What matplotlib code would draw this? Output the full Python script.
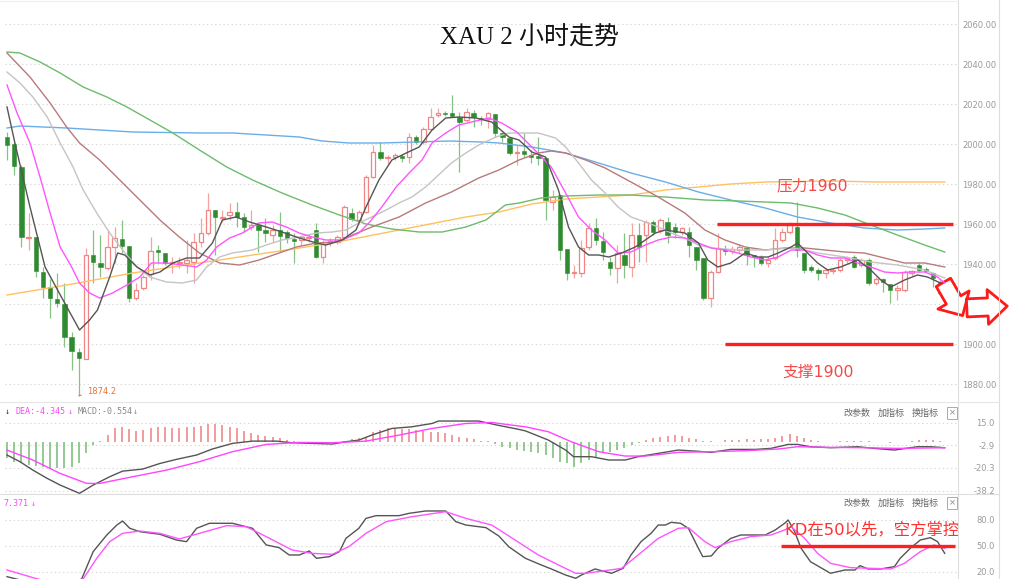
import numpy as np
import matplotlib
matplotlib.use("Agg")
from matplotlib import pyplot as plt
from matplotlib.lines import Line2D

plt.rcParams['font.family'] = ['DejaVu Sans', 'Noto Sans CJK SC']

# ---- K line data (2 hour candles) ----
opens = [2003.5, 2000, 1988.5, 1953, 1953.5, 1936, 1928.5, 1922.5, 1920, 1903.5,
         1896, 1892.5, 1944.5, 1940.5, 1938, 1948.5, 1952.5, 1949, 1923, 1928,
         1935, 1947, 1945.5, 1940.5, 1940.5, 1940.5, 1941, 1951, 1955.5, 1967,
         1963, 1964.5, 1966, 1963.5, 1958.5, 1959.5, 1957, 1954.5, 1957, 1956,
         1952.5, 1952, 1953, 1957, 1943.5, 1950.5, 1951, 1953.5, 1965.5, 1962,
         1966, 1983.5, 1996, 1993, 1993.5, 1994, 1993.5, 2003.5, 2001, 2007.5,
         2014.5, 2015.5, 2015.5, 2013.5, 2012, 2015.5, 2013, 2012.5, 2015, 2005.5,
         2003, 1995.5, 1996.5, 1994.5, 1994, 1993, 1971, 1974.5, 1947.5, 1935.5,
         1935.5, 1948.5, 1958, 1951.5, 1941, 1938, 1944.5, 1938.5, 1954.5, 1954.5,
         1961, 1957, 1961, 1958.5, 1956, 1956, 1948.5, 1943, 1923, 1936,
         1947.5, 1946.5, 1947, 1948, 1944.5, 1943.5, 1940.5, 1943, 1952, 1956,
         1958.5, 1945.5, 1938.5, 1937, 1935.5, 1936.5, 1937, 1942, 1943.5, 1939.5,
         1942, 1930.5, 1932.5, 1930, 1927, 1927, 1935.5, 1939.5, 1937.5, 1935.5,
         1931, 1926]
closes = [1999.5, 1989, 1953.5, 1953.5, 1936.5, 1928.5, 1923, 1920.5, 1903.5, 1896.5,
          1893, 1944.5, 1941, 1938.5, 1948.5, 1953, 1949, 1923, 1927, 1933.5,
          1946.5, 1946, 1940.5, 1941, 1941, 1942, 1951, 1955.5, 1967, 1963.5,
          1963.5, 1966, 1963.5, 1958.5, 1959.5, 1957, 1955.5, 1957, 1954, 1953,
          1951.5, 1953.5, 1953.5, 1943.5, 1950, 1951.5, 1953.5, 1968.5, 1962.5, 1966,
          1983.5, 1996, 1993, 1993.5, 1994.5, 1993, 2003.5, 2001, 2007.5, 2013.5,
          2015.5, 2015, 2014, 2011, 2016, 2013.5, 2012.5, 2015.5, 2005.5, 2003.5,
          1995.5, 1996, 1995, 1993.5, 1993, 1972, 1973.5, 1947, 1935.5, 1936,
          1948, 1958, 1952, 1946, 1938, 1945.5, 1939.5, 1954.5, 1948.5, 1961,
          1956, 1962, 1954.5, 1956, 1958, 1949.5, 1942, 1923, 1936, 1948,
          1946.5, 1947.5, 1948.5, 1944.5, 1943.5, 1940.5, 1942, 1952, 1956, 1959.5,
          1947, 1937, 1937, 1935.5, 1937, 1937, 1942, 1943, 1938.5, 1942,
          1930.5, 1932.5, 1931, 1927, 1928, 1936, 1936.5, 1937, 1936.5, 1933,
          1925.5, 1925]
highs = [2006, 2001, 1989.5, 1965.5, 1953.5, 1938.5, 1932.5, 1935.5, 1930.5, 1906,
         1898, 1948, 1957, 1954.5, 1957, 1958.5, 1962, 1949, 1930.5, 1934.5,
         1953.5, 1949.5, 1945.5, 1943.5, 1943.5, 1952, 1955.5, 1963, 1975.5, 1967,
         1967, 1970.5, 1971, 1965.5, 1967, 1961, 1963, 1959.5, 1966, 1957,
         1955.5, 1954.5, 1954.5, 1960.5, 1952, 1953, 1954.5, 1969.5, 1968, 1967,
         1984.5, 1999.5, 2001, 1994.5, 1995.5, 1995, 2005.5, 2004.5, 2008.5, 2018,
         2018, 2016.5, 2024.5, 2016, 2018, 2017, 2014, 2016, 2015, 2006,
         2003.5, 1999.5, 2005.5, 1997, 2003.5, 1993.5, 1977, 1974.5, 1947.5, 1939.5,
         1952, 1960.5, 1963, 1956, 1943.5, 1949.5, 1955.5, 1960.5, 1960.5, 1962,
         1962, 1963, 1963.5, 1960.5, 1958.5, 1958.5, 1948.5, 1943, 1937, 1955.5,
         1949.5, 1949, 1950, 1948.5, 1944.5, 1944.5, 1943.5, 1958, 1958, 1961,
         1971, 1945.5, 1939.5, 1938, 1938, 1938, 1943, 1944, 1944.5, 1943,
         1943, 1933.5, 1933, 1930, 1929.5, 1937, 1937, 1940.5, 1938.5, 1936,
         1932, 1927]
lows = [1992, 1984.5, 1948.5, 1947, 1933.5, 1923, 1913, 1918.5, 1898.5, 1887,
        1874.2, 1892.5, 1930.5, 1933.5, 1937, 1940.5, 1945.5, 1921, 1922, 1927,
        1932, 1940.5, 1939.5, 1935.5, 1938, 1935.5, 1930.5, 1948.5, 1954.5, 1944.5,
        1961, 1962, 1958.5, 1956, 1957, 1946, 1951, 1951, 1946, 1950.5,
        1940.5, 1949.5, 1951, 1943, 1940.5, 1949, 1950, 1952, 1961.5, 1961,
        1965.5, 1983, 1992, 1990, 1992, 1991, 1990.5, 2000, 2000, 2007,
        2013.5, 2014, 2013.5, 1986, 2011, 2008.5, 2009.5, 2008, 2003.5, 2001,
        1994.5, 1989.5, 1993.5, 1990.5, 1989.5, 1962, 1967, 1942, 1932, 1933,
        1933.5, 1947, 1949.5, 1942, 1934.5, 1930.5, 1933, 1933.5, 1941, 1941,
        1954.5, 1955.5, 1950.5, 1953, 1954.5, 1943.5, 1937, 1922, 1918.5, 1935.5,
        1944.5, 1945, 1945.5, 1939.5, 1938.5, 1939.5, 1938.5, 1942, 1951, 1955,
        1943.5, 1935.5, 1936, 1932, 1933, 1935, 1936, 1940.5, 1938, 1938.5,
        1929.5, 1929.5, 1926, 1920.5, 1922, 1926, 1934, 1936, 1936, 1928.5,
        1925, 1920.5]

# moving averages: (bar index, price)
ma5 = [(0, 2018.5), (1.1, 2000.5), (3.2, 1968.5), (5.3, 1938.5), (7.8, 1922), (10.1, 1907),
       (11.5, 1912), (12.6, 1917), (14.3, 1933.5), (15.4, 1945.5), (16.4, 1944.5), (18.1, 1938.5),
       (19.9, 1934.5), (21.3, 1936), (23.1, 1940.5), (25.0, 1943), (26.8, 1943), (28.6, 1950.5),
       (30.0, 1962), (31.9, 1963.5), (33.8, 1961), (36.1, 1958.5), (38.3, 1956), (40.7, 1953),
       (43.1, 1950.5), (44.4, 1949.5), (46.7, 1952), (48.6, 1957), (50.0, 1968.5), (51.8, 1982),
       (53.6, 1992), (55.6, 1995.5), (57.4, 1998.5), (59.2, 2007), (61.1, 2013), (62.9, 2013.5),
       (65.3, 2013), (67.5, 2011), (69.9, 2003.5), (71.3, 2002), (73.1, 1996), (75.0, 1993.5),
       (76.8, 1977), (78.2, 1958.5), (79.6, 1948.5), (81.0, 1944.5), (82.4, 1944.5), (83.8, 1943.5),
       (85.6, 1945.5), (87.5, 1948.5), (88.9, 1952), (90.3, 1955.5), (91.7, 1957), (94.4, 1955.5),
       (96.3, 1950.5), (97.6, 1942), (99.0, 1938.5), (100.8, 1940.5), (102.8, 1945.5), (104.6, 1943.5),
       (106.0, 1943.5), (107.4, 1945.5), (109.2, 1948.5), (110.1, 1950.5), (111.5, 1945.5),
       (112.9, 1940.5), (114.3, 1937), (116.1, 1938.5), (118.5, 1942), (120.3, 1937), (121.7, 1932),
       (123.1, 1928.5), (125.0, 1932), (126.8, 1934.5), (128.2, 1933.5), (130.0, 1930.5)]
ma10 = [(0, 2029.5), (1.4, 2015.5), (3.2, 2000.5), (4.6, 1983.5), (6.0, 1965.5), (7.4, 1948.5),
        (9.0, 1938.5), (10.1, 1930.5), (11.5, 1925.5), (12.9, 1923), (14.7, 1925.5), (16.7, 1929.5),
        (18.5, 1933.5), (20.1, 1940.5), (22.2, 1940.5), (24.4, 1939.5), (26.4, 1938.5), (27.8, 1942),
        (29.2, 1948.5), (31.0, 1953), (32.8, 1955.5), (35.1, 1960.5), (36.9, 1961), (38.9, 1958.5),
        (40.7, 1955.5), (42.5, 1953.5), (44.4, 1952), (46.7, 1952), (49.0, 1955.5), (50.4, 1960.5),
        (52.2, 1968.5), (54.2, 1978.5), (56.0, 1985.5), (57.8, 1992), (59.2, 2000.5), (61.1, 2005.5),
        (62.9, 2009.5), (64.7, 2011), (67.1, 2013), (68.9, 2010.5), (71.0, 2006), (73.1, 1998.5),
        (75.8, 1988.5), (77.8, 1975.5), (79.6, 1963.5), (81.4, 1957), (83.3, 1952), (85.1, 1945.5),
        (86.9, 1946), (88.9, 1949.5), (90.7, 1952), (92.5, 1953.5), (94.4, 1953), (96.3, 1950.5),
        (98.1, 1948), (100.0, 1947), (101.8, 1945.5), (103.6, 1943.5), (105.6, 1942), (107.4, 1943.5),
        (109.2, 1947), (111.1, 1947), (112.9, 1944.5), (114.7, 1943), (116.7, 1943), (118.5, 1940.5),
        (120.3, 1938.5), (122.2, 1936), (124.0, 1935.5), (125.8, 1936), (127.8, 1936), (129.6, 1933.5),
        (130.6, 1930.5)]
ma20 = [(0, 2036), (1.8, 2030.5), (3.6, 2023.5), (5.6, 2013.5), (7.4, 2000.5), (9.2, 1988.5),
        (10.6, 1977), (12.5, 1965.5), (14.3, 1955.5), (16.1, 1947), (18.1, 1938.5), (19.9, 1933.5),
        (22.2, 1931), (24.4, 1930.5), (26.4, 1932), (27.8, 1938.5), (29.6, 1943.5), (31.4, 1945.5),
        (34.2, 1947), (36.1, 1949.5), (38.3, 1952), (40.7, 1953.5), (43.1, 1955.5), (45.3, 1956),
        (47.2, 1957), (49.0, 1960.5), (50.8, 1963.5), (52.8, 1967), (54.6, 1970.5), (56.4, 1973.5),
        (58.3, 1978.5), (60.1, 1984.5), (61.9, 1990.5), (63.9, 1995.5), (65.7, 1999.5), (68.1, 2003.5),
        (69.9, 2005.5), (74.0, 2005.5), (76.4, 2003), (77.8, 1998.5), (79.6, 1990.5), (81.4, 1982),
        (83.3, 1975.5), (85.1, 1968.5), (86.9, 1963.5), (88.9, 1961), (90.7, 1958.5), (92.5, 1955.5),
        (94.4, 1953), (96.3, 1949.5), (98.1, 1948), (101.8, 1947), (105.6, 1947), (109.2, 1948),
        (111.1, 1947), (112.9, 1945.5), (116.7, 1943.5), (120.3, 1941), (124.0, 1939.5),
        (127.8, 1937), (130.6, 1933)]
ma30 = [(0, 2045.5), (3.2, 2033.5), (6.0, 2020.5), (8.3, 2008.5), (10.1, 2000.5), (12.9, 1992),
        (15.7, 1982), (18.5, 1972), (21.3, 1962), (24.0, 1953.5), (26.8, 1945.5), (29.6, 1940.5),
        (32.4, 1939.5), (35.1, 1942), (37.9, 1945.5), (40.3, 1948.5), (43.1, 1950.5), (45.8, 1951),
        (48.1, 1954.5), (50.8, 1958.5), (54.6, 1963.5), (58.3, 1970.5), (61.9, 1976), (65.7, 1983),
        (68.5, 1987), (71.3, 1992), (74.0, 1995.5), (75.8, 1996.5), (77.8, 1995.5), (80.6, 1992),
        (83.3, 1988), (86.9, 1981), (90.7, 1973.5), (94.4, 1965.5), (97.2, 1957), (100.0, 1952),
        (102.8, 1948.5), (105.6, 1947), (108.3, 1948), (111.1, 1948), (113.9, 1947), (116.7, 1946),
        (119.4, 1945.5), (122.2, 1943), (125.0, 1940.5), (127.8, 1940.5), (130.6, 1938.5)]
ma60 = [(0, 2046), (1.8, 2045.5), (4.6, 2041), (7.4, 2035.5), (10.6, 2028.5), (13.9, 2023.5),
        (16.7, 2018.5), (19.9, 2012), (23.1, 2005.5), (26.8, 1997), (30.6, 1988.5), (34.2, 1982),
        (38.3, 1975.5), (42.5, 1969.5), (46.3, 1964.5), (50.0, 1960), (53.6, 1957.5), (57.4, 1956),
        (60.6, 1956), (63.9, 1958.5), (66.7, 1962), (69.4, 1969.5), (71.3, 1970.5), (74.4, 1973),
        (77.8, 1974), (82.4, 1974.5), (86.9, 1974.5), (91.7, 1973.5), (97.2, 1972), (101.8, 1971.5),
        (105.6, 1971), (109.2, 1970.5), (112.9, 1968), (116.7, 1964.5), (120.3, 1959.5),
        (124.0, 1954.5), (127.8, 1949.5), (130.6, 1946)]
ma120 = [(0, 2008), (1.8, 2009), (8.3, 2008), (17.5, 2006), (26.8, 2005.5), (31.4, 2005.5),
         (36.1, 2004.5), (40.7, 2003.5), (43.9, 2001.5), (47.6, 2000.5), (52.2, 2000.5), (61.5, 2001.5),
         (66.1, 2001), (68.5, 2000.5), (73.1, 1998.5), (77.8, 1995.5), (82.4, 1990.5), (86.9, 1985.5),
         (91.7, 1981), (96.3, 1976), (100.8, 1972), (105.6, 1968), (110.1, 1963.5), (114.7, 1960.5),
         (119.4, 1958), (124.0, 1957), (127.8, 1957.5), (130.6, 1958)]
ma250 = [(0, 1924.5), (8.3, 1929.5), (17.5, 1935.5), (26.8, 1940.5), (36.1, 1945.5), (45.3, 1950.5),
         (54.6, 1957), (63.9, 1963.5), (68.5, 1966), (73.1, 1970), (77.8, 1972.5), (82.4, 1973.5),
         (86.9, 1974.5), (91.7, 1977), (96.3, 1978.5), (100.8, 1980), (105.6, 1981), (114.7, 1981.5),
         (121.3, 1981), (130.6, 1981)]

# MACD
macd_hist = [-13.0, -15.6, -17.0, -18.3, -18.8, -19.6, -20.3, -20.9, -20.9, -19.6,
             -17.0, -9.1, -2.6, 0.8, 5.2, 10.4, 11.7, 9.7, 8.3, 9.1,
             11.0, 11.7, 11.2, 11.0, 11.0, 11.2, 11.7, 12.3, 13.6, 13.6,
             13.0, 11.7, 10.4, 8.3, 6.5, 5.2, 4.4, 3.9, 3.1, 1.3,
             0.5, 0.0, -0.3, -0.8, -1.0, -0.8, -0.3, 0.8, 1.8, 2.6,
             3.9, 7.3, 9.4, 10.4, 10.4, 9.9, 9.7, 9.1, 8.6, 7.8,
             7.3, 6.5, 5.2, 3.9, 2.6, 1.8, 0.5, 0.3, -2.1, -3.9,
             -5.2, -6.5, -7.3, -7.8, -9.1, -10.4, -13.0, -15.6, -17.0, -19.6,
             -17.0, -14.3, -11.7, -9.1, -7.8, -6.5, -5.2, -2.6, -1.3, 1.3,
             2.6, 3.9, 4.7, 5.2, 4.7, 3.1, 1.8, 0.8, 0.3, -0.3,
             1.0, 1.6, 1.6, 1.8, 1.6, 1.8, 2.3, 3.1, 4.7, 5.7,
             4.7, 3.1, 1.3, 0.3, -0.5, -0.3, 0.3, 0.8, 0.8, 0.8,
             0.5, -0.3, -0.5, -0.8, -0.3, 0.0, 0.3, 1.3, 1.3, 1.3,
             0.5, -0.3]
dif = [(0, -10.4), (1.8, -15.6), (3.6, -22.2), (5.6, -28.7), (7.4, -33.9), (10.1, -40.4),
       (12.0, -33.9), (14.3, -27.4), (16.1, -23.0), (18.9, -21.4), (21.3, -17.0), (23.6, -13.8),
       (26.4, -10.4), (28.6, -5.7), (31.4, -1.3), (34.2, 0.5), (37.5, 0.5), (39.7, -0.8),
       (42.5, -1.3), (45.3, -1.8), (47.2, 0), (49.0, 1.3), (50.8, 5.2), (53.6, 10.4), (56.4, 11.7),
       (59.2, 14.3), (60.1, 16.2), (65.7, 16.2), (68.3, 13.0), (71.0, 10.0), (72.2, 8.5), (75.4, 1.3),
       (77.8, -6.5), (78.9, -11.7), (81.4, -11.7), (83.8, -14.3), (86.1, -14.3), (87.9, -11.7),
       (90.7, -9.1), (93.5, -6.5), (95.8, -7.3), (98.1, -8.3), (100.8, -6.0), (104.2, -6.0),
       (106.4, -5.2), (108.8, -2.1), (110.1, -2.1), (111.9, -3.9), (114.7, -4.7), (118.5, -3.9),
       (120.8, -5.2), (123.6, -6.5), (126.8, -3.9), (128.6, -3.9), (130.6, -4.7)]
dea = [(0, -6.5), (3.6, -14.3), (7.4, -24.8), (11.1, -32.6), (12.9, -32.6), (17.5, -27.4),
       (22.2, -22.2), (26.8, -15.6), (31.4, -7.8), (36.1, -2.1), (40.7, -0.5), (45.3, -0.8),
       (50.0, 0.5), (54.6, 5.2), (59.2, 10.4), (63.9, 14.3), (67.5, 15.1), (71.0, 12.5), (72.2, 11.7),
       (75.4, 7.8), (78.6, 0), (82.4, -7.8), (86.1, -11.2), (88.9, -11.2), (93.5, -8.3), (98.1, -7.8),
       (102.8, -7.0), (107.4, -5.7), (110.1, -3.9), (114.7, -4.4), (119.4, -4.7), (124.0, -5.2),
       (130.6, -4.7)]

# KD
kd_k = [(0, 14.6), (3.6, 7), (7.4, 2), (10.4, 11.9), (12.0, 43.5), (13.9, 62.7), (15.3, 74.2),
        (16.1, 78.8), (17.1, 70.4), (18.5, 66.5), (21.3, 63.5), (23.6, 56.9), (25.0, 55.0),
        (26.4, 70.4), (28.2, 76.2), (31.4, 76.2), (34.2, 70.4), (36.1, 51.2), (37.9, 48.1),
        (39.3, 39.6), (40.7, 39.6), (42.1, 44.2), (43.1, 35.8), (44.9, 37.7), (46.3, 43.5),
        (47.2, 58.8), (49.0, 70.4), (50.0, 81.9), (51.4, 85.0), (54.6, 85.0), (56.0, 87.7),
        (58.3, 90.4), (61.1, 90.4), (62.5, 78.1), (63.9, 74.2), (66.7, 71.2), (68.5, 61.5),
        (69.9, 49), (72.2, 35.8), (74.4, 28.1), (75.8, 23.5), (77.8, 16.5), (79.2, 12.7), (80.0, 16.5),
        (81.9, 23.5), (83.3, 20.4), (84.2, 18.5), (85.8, 24.2), (86.9, 39.6), (88.3, 55.0),
        (89.7, 64.6), (90.7, 74.2), (91.7, 74.2), (92.5, 77.3), (93.8, 76.2), (94.9, 70.4),
        (96.3, 47.3), (96.9, 37.7), (98.1, 38.5), (99.0, 47.3), (100.8, 58.8), (102.2, 62.7),
        (105.6, 62.7), (107.0, 68.5), (108.3, 76.2), (108.8, 80.0), (109.7, 66.5), (110.6, 47.3),
        (111.9, 31.9), (113.9, 22.3), (114.7, 18.5), (116.7, 22.3), (118.1, 22.3), (118.8, 27.3),
        (119.9, 23.5), (121.7, 23.5), (123.6, 26.2), (124.4, 35.8), (125.8, 47.3), (127.2, 56.9),
        (128.6, 59.6), (129.6, 55.0), (130.6, 41.5)]
kd_d = [(0, 22.3), (3.6, 13.5), (6, 8), (9, 5), (10.6, 11.9), (12.5, 35.8), (14.3, 55.0),
        (16.1, 64.6), (18.5, 67.3), (21.3, 64.6), (24.0, 58.1), (26.8, 64.6), (30.6, 73.5),
        (33.3, 72.3), (36.1, 60.8), (39.7, 45.4), (42.5, 41.5), (45.3, 40.4), (47.6, 49.2),
        (50.0, 64.6), (52.8, 78.1), (56.4, 83.8), (61.1, 89.6), (63.9, 81.9), (67.5, 74.2),
        (68.5, 69), (71.3, 54), (74.0, 39.6), (76.8, 28.1), (79.2, 18.5), (80.6, 18.5), (83.3, 21.5),
        (85.6, 24.2), (87.9, 39.6), (90.7, 58.8), (93.5, 70.4), (94.9, 71.2), (97.2, 55.0),
        (98.6, 48.1), (100.8, 55.0), (103.6, 60.8), (106.4, 62.7), (108.3, 68.5), (109.2, 72.3),
        (111.1, 58.8), (112.9, 41.5), (114.7, 30.0), (117.5, 25.0), (120.3, 24.2), (123.1, 23.5),
        (125.0, 30.0), (127.2, 43.5), (129.1, 51.2), (130.6, 47.3)]

price_ticks = [2060, 2040, 2020, 2000, 1980, 1960, 1940, 1920, 1900, 1880]
macd_ticks = [15.0, -2.9, -20.3, -38.2]
kd_ticks = [80.0, 50.0, 20.0]

resistance = 1960
support = 1900
low_label = "1874.2"

W, H = 1024, 579
fig = plt.figure(figsize=(W / 100, H / 100), dpi=100)


def px_axes(x0, y0, x1, y1):
    a = fig.add_axes([x0 / W, 1 - y1 / H, (x1 - x0) / W, (y1 - y0) / H])
    for s in a.spines.values():
        s.set_visible(False)
    a.set_xticks([])
    a.set_xlim(-0.28, 132.45)
    return a


def ftext(x, y, s, **kw):
    fig.text(x / W, 1 - y / H, s, **kw)


def fline(xs, ys, **kw):
    fig.add_artist(Line2D([x / W for x in xs], [1 - y / H for y in ys], transform=fig.transFigure, **kw))


o = np.array(opens)
c = np.array(closes)
hi = np.array(highs)
lo = np.array(lows)
idx = np.arange(len(o))
up = c >= o
dn = ~up

ax = px_axes(5, 0, 958, 400)
ax.set_ylim(1872, 2072)
ax.vlines(idx[dn], lo[dn], hi[dn], colors='#86c286', lw=0.9, zorder=2)
ax.vlines(idx[up], lo[up], hi[up], colors='#f4a3a3', lw=0.9, zorder=2)
body = np.maximum(np.abs(c - o), 0.5)
bot = np.minimum(o, c)
ax.bar(idx[dn], body[dn], bottom=bot[dn], width=0.62, color='#2f8b2f', edgecolor='#2f8b2f', lw=0.4, zorder=3)
ax.bar(idx[up], body[up], bottom=bot[up], width=0.62, facecolor='white', edgecolor='#f08585', lw=0.9, zorder=3)

ma_styles = [(ma250, '#ffc060'), (ma120, '#6aaee8'), (ma60, '#6cbc6c'), (ma30, '#b87a7a'),
             (ma20, '#c4c4c4'), (ma10, '#ff55ff'), (ma5, '#555555')]
for pts, col in ma_styles:
    xs, ys = zip(*pts)
    ax.plot(xs, ys, color=col, lw=1.0, zorder=4)

ax.yaxis.tick_right()
ax.set_yticks(price_ticks)
ax.set_yticklabels(['%.2f' % v for v in price_ticks])
ax.tick_params(axis='y', length=0, pad=3, labelsize=6, labelcolor='#9a9a9a')
ax.grid(axis='y', color='#d8d8d8', ls=(0, (1.2, 2.5)), lw=0.8)

ax.hlines(resistance, 98.9, 131.8, color='#ff1f1f', lw=2.4, zorder=5)
ax.hlines(support, 100.0, 131.8, color='#ff1f1f', lw=2.4, zorder=5)
ax.text(107.2, 1979, '压力1960', color='#f24a4a', fontsize=11.3, va='center', zorder=6)
ax.text(108.0, 1886, '支撑1900', color='#f24a4a', fontsize=11.3, va='center', zorder=6)
ax.annotate(low_label, xy=(10, 1874.2), xytext=(11.1, 1876.2), fontsize=6, color='#e8743a',
            va='center', arrowprops=dict(arrowstyle='-', color='#e8743a', lw=0.8))

# MACD panel
am = px_axes(5, 402, 958, 494)
am.set_ylim(-40.9, 31.1)
hv = np.array(macd_hist)
pos = hv >= 0
am.vlines(idx[pos], 0, hv[pos], colors='#f08a8a', lw=1.2)
am.vlines(idx[~pos], 0, hv[~pos], colors='#80c080', lw=1.2)
xs, ys = zip(*dif)
am.plot(xs, ys, color='#555555', lw=1.0)
xs, ys = zip(*dea)
am.plot(xs, ys, color='#ff44ff', lw=1.0)
am.yaxis.tick_right()
am.set_yticks(macd_ticks)
am.set_yticklabels(['%.1f' % v for v in macd_ticks])
am.tick_params(axis='y', length=0, pad=26.5, labelsize=6, labelcolor='#9a9a9a')
for lbl in am.get_yticklabels():
    lbl.set_ha('right')
am.grid(axis='y', color='#d8d8d8', ls=(0, (1.2, 2.5)), lw=0.8)

# KD panel
ak = px_axes(5, 494, 958, 579)
ak.set_ylim(11.9, 110)
xs, ys = zip(*kd_k)
ak.plot(xs, ys, color='#555555', lw=1.0)
xs, ys = zip(*kd_d)
ak.plot(xs, ys, color='#ff55ff', lw=1.0)
ak.yaxis.tick_right()
ak.set_yticks(kd_ticks)
ak.set_yticklabels(['%.1f' % v for v in kd_ticks])
ak.tick_params(axis='y', length=0, pad=26.5, labelsize=6, labelcolor='#9a9a9a')
for lbl in ak.get_yticklabels():
    lbl.set_ha('right')
ak.grid(axis='y', color='#d8d8d8', ls=(0, (1.2, 2.5)), lw=0.8)
ak.hlines(50, 107.8, 132.0, color='#ff1f1f', lw=2.4, zorder=5)
ak.text(108.2, 68.5, 'KD在50以先，空方掌控', color='#ff3030', fontsize=11.8, va='center', zorder=6)

# frame lines
fline([958, 958], [0, 579], color='#dddddd', lw=0.8)
fline([999, 999], [0, 579], color='#dddddd', lw=0.8)
fline([0, 999], [402, 402], color='#e6e6e6', lw=0.8)
fline([0, 999], [494, 494], color='#dddddd', lw=0.8)
fline([0, 958], [1, 1], color='#eeeeee', lw=0.8)

# headers
mono = 'DejaVu Sans Mono'
ftext(5, 412, '↓', color='#333333', fontsize=6, family=mono, va='center')
ftext(15, 412, 'DEA:-4.345', color='#ff44ff', fontsize=6, family=mono, va='center')
ftext(68, 412, '↓', color='#ff44ff', fontsize=6, family=mono, va='center')
ftext(78, 412, 'MACD:-0.554', color='#888888', fontsize=6, family=mono, va='center')
ftext(133, 412, '↓', color='#888888', fontsize=6, family=mono, va='center')
ftext(3, 503, '7.371', color='#ff44ff', fontsize=6, family=mono, va='center')
ftext(31, 503, '↓', color='#ff44ff', fontsize=6, family=mono, va='center')
for yy in (413, 503):
    ftext(843, yy, '改参数', color='#666666', fontsize=6.5, va='center')
    ftext(878, yy, '加指标', color='#666666', fontsize=6.5, va='center')
    ftext(912, yy, '换指标', color='#666666', fontsize=6.5, va='center')
    ftext(952, yy, '×', color='#888888', fontsize=6, va='center', ha='center',
          bbox=dict(boxstyle='square,pad=0.15', fc='white', ec='#aaaaaa', lw=0.7))

ftext(530, 38, 'XAU 2 小时走势', ha='center', va='center', fontsize=18, color='#111111',
      family=['Liberation Serif', 'Noto Sans CJK SC'])

# red outline arrows
ax.annotate('', xy=(964, H - 318), xycoords='figure pixels', xytext=(942, H - 280),
            textcoords='figure pixels', annotation_clip=False,
            arrowprops=dict(arrowstyle='simple,head_length=1.3,head_width=2.6,tail_width=1.2',
                            fc='white', ec='#ff1a1a', lw=2))
ax.annotate('', xy=(1010, H - 306), xycoords='figure pixels', xytext=(964, H - 308),
            textcoords='figure pixels', annotation_clip=False,
            arrowprops=dict(arrowstyle='simple,head_length=1.4,head_width=2.5,tail_width=1.3',
                            fc='white', ec='#ff1a1a', lw=2))

fig.savefig('out.png', dpi=100)
